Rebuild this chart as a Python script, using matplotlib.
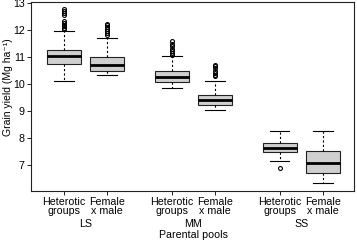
import matplotlib
matplotlib.use("Agg")
import matplotlib.pyplot as plt
from matplotlib import transforms

plt.rcParams['font.family'] = ['Liberation Sans', 'DejaVu Sans']

# box summaries (Mg/ha)
labels = ["Heterotic\ngroups", "Female\nx male"] * 3
groups = ["LS", "MM", "SS"]
positions = [1, 2, 3.5, 4.5, 6, 7]
whislo = [10.12, 10.35, 9.86, 9.05, 7.14, 6.31]
q1 = [10.76, 10.50, 10.08, 9.21, 7.46, 6.71]
med = [11.03, 10.70, 10.26, 9.41, 7.64, 7.08]
q3 = [11.25, 11.02, 10.47, 9.60, 7.81, 7.50]
whishi = [11.98, 11.70, 11.03, 10.10, 8.27, 8.27]
fliers = [
    [12.05, 12.10, 12.15, 12.20, 12.28, 12.35, 12.58, 12.65, 12.72, 12.80],
    [11.84, 11.90, 11.97, 12.05, 12.12, 12.20, 12.25],
    [11.09, 11.15, 11.22, 11.30, 11.40, 11.50, 11.59],
    [10.29, 10.35, 10.42, 10.50, 10.60, 10.66, 10.72],
    [6.90],
    [],
]

stats = []
for i in range(len(positions)):
    stats.append(dict(whislo=whislo[i], q1=q1[i], med=med[i], q3=q3[i],
                      whishi=whishi[i], fliers=fliers[i]))

fs = 7.7
fig = plt.figure(figsize=(3.57, 2.41), dpi=100)
ax = fig.add_axes([0.0868, 0.2075, 0.9048, 0.7842])

ax.bxp(stats, positions=positions, widths=0.8, capwidths=0.45,
       patch_artist=True,
       boxprops=dict(facecolor='#cfcfcf', edgecolor='#222222', linewidth=0.8),
       medianprops=dict(color='black', linewidth=2.0),
       whiskerprops=dict(color='black', linewidth=0.8, linestyle=(0, (2, 2))),
       capprops=dict(color='black', linewidth=0.8),
       flierprops=dict(marker='o', markersize=2.8, markerfacecolor='none',
                       markeredgecolor='black', markeredgewidth=0.8))

ax.set_xlim(0.236, 7.72)
ax.set_ylim(6.03, 13.05)
ax.set_yticks([7, 8, 9, 10, 11, 12, 13])
ax.set_xticks(positions)
ax.set_xticklabels(labels, linespacing=0.9)
ax.tick_params(labelsize=fs, length=3, width=0.7, pad=1.5, color='#222222')
for s in ax.spines.values():
    s.set_linewidth(0.8)
    s.set_color('#222222')

ax.set_ylabel("Grain yield (Mg ha\u207b\u00b9)", fontsize=7.5)
ax.yaxis.set_label_coords(-0.055, 0.55)

trans = transforms.blended_transform_factory(ax.transData, fig.transFigure)
for g, x in zip(groups, [1.5, 4.0, 6.5]):
    ax.text(x, 0.072, g, transform=trans, ha='center', va='center', fontsize=fs)
fig.text(0.542, 0.025, "Parental pools", ha='center', va='center', fontsize=fs)

fig.savefig("out.png", dpi=100)
